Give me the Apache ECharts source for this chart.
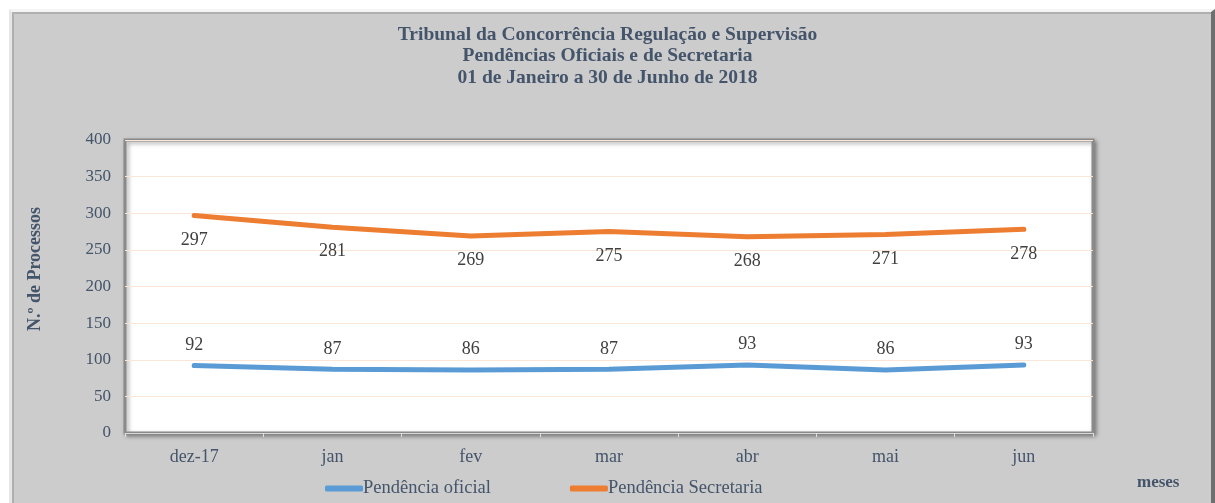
<!DOCTYPE html>
<html>
<head>
<meta charset="utf-8">
<script src="https://cdn.jsdelivr.net/npm/echarts@6/dist/echarts.min.js"></script>
<style>
  html, body { margin: 0; padding: 0; background: #ffffff; }
  #frame {
    position: absolute; left: 9px; top: 9px; width: 1199px; height: 500px;
    background: #cccccc;
    border-top: 3px solid #f4f4f4;
    border-left: 3px solid #e6e6e6;
    border-right: 4px solid #6f6f6f;
    box-shadow: inset 2px 2px 0 #b0b0b0;
  }
  #chart { position: absolute; left: 0; top: 0; width: 1215px; height: 503px; }
</style>
</head>
<body>
<div id="frame"></div>
<div id="chart"></div>
<script>
const titleLines = [
  "Tribunal da Concorrência Regulação e Supervisão",
  "Pendências Oficiais e de Secretaria",
  "01 de Janeiro a 30 de Junho de 2018"
];
const categories = ["dez-17", "jan", "fev", "mar", "abr", "mai", "jun"];
const pendenciaOficial = [92, 87, 86, 87, 93, 86, 93];
const pendenciaSecretaria = [297, 281, 269, 275, 268, 271, 278];
const seriesNames = ["Pendência oficial", "Pendência Secretaria"];
const yTicks = { min: 0, max: 400, interval: 50 };
const yAxisName = "N.º de Processos";
const xAxisName = "meses";

const FONT = "Liberation Serif";
const TXT = "#44546a";
const BLUE = "#5b9bd5";
const ORANGE = "#ed7d31";

const chart = echarts.init(document.getElementById("chart"), null, { renderer: "canvas" });
chart.setOption({
  animation: false,
  backgroundColor: "transparent",
  title: {
    text: titleLines.join("\n"),
    left: "center",
    top: 19,
    textStyle: { fontFamily: FONT, fontSize: 19.5, fontWeight: "bold", color: TXT, lineHeight: 21.5 }
  },
  grid: {
    left: 125, right: 122, top: 140, bottom: 70,
    show: true, backgroundColor: "#ffffff",
    borderColor: "#8a8a8a", borderWidth: 3,
    shadowColor: "rgba(0,0,0,0.35)", shadowBlur: 4, shadowOffsetX: 2, shadowOffsetY: 2
  },
  legend: {
    data: seriesNames,
    left: 320, top: 474,
    itemWidth: 38, itemHeight: 6, itemGap: 79,
    icon: "roundRect",
    textStyle: { fontFamily: FONT, fontSize: 18.5, color: TXT, padding: [0, 0, 0, -5] }
  },
  graphic: [
    {
      type: "text", left: 1137, top: 474,
      style: { text: xAxisName, fontFamily: FONT, fontSize: 17, fontWeight: "bold", fill: TXT }
    },
    {
      type: "text", x: 35, y: 269, rotation: Math.PI / 2,
      style: { text: yAxisName, fontFamily: FONT, fontSize: 18, fontWeight: "bold", fill: TXT,
               align: "center", verticalAlign: "middle" }
    }
  ],
  xAxis: {
    type: "category",
    data: categories,
    boundaryGap: true,
    axisLine: { show: true, lineStyle: { color: "#d9d9d9", width: 1 } },
    axisTick: { show: true, length: 4, lineStyle: { color: "#e0e0e0" } },
    axisLabel: { fontFamily: FONT, fontSize: 18, color: TXT, margin: 15 }
  },
  yAxis: {
    type: "value",
    min: yTicks.min, max: yTicks.max, interval: yTicks.interval,
    axisLine: { show: false },
    axisTick: { show: false },
    splitLine: { show: true, lineStyle: { color: "#fbe5d6", width: 1 } },
    axisLabel: { fontFamily: FONT, fontSize: 17, color: TXT, margin: 14 }
  },
  series: [
    {
      name: seriesNames[0], type: "line", data: pendenciaOficial,
      symbol: "circle", symbolSize: 1, showSymbol: true,
      lineStyle: { color: BLUE, width: 5, cap: "round" },
      itemStyle: { color: BLUE },
      label: { show: true, position: "top", distance: 11, fontFamily: FONT, fontSize: 18, color: "#404040" }
    },
    {
      name: seriesNames[1], type: "line", data: pendenciaSecretaria,
      symbol: "circle", symbolSize: 1, showSymbol: true,
      lineStyle: { color: ORANGE, width: 5, cap: "round" },
      itemStyle: { color: ORANGE },
      label: { show: true, position: "bottom", distance: 15, fontFamily: FONT, fontSize: 18, color: "#404040" }
    }
  ]
});
</script>
</body>
</html>
